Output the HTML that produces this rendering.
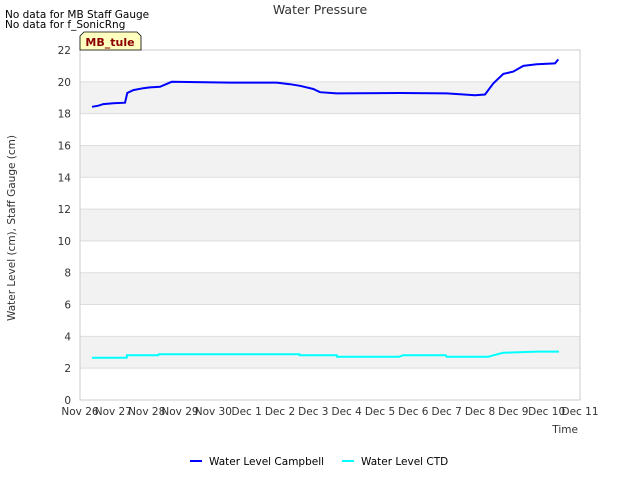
<!DOCTYPE html>
<html><head><meta charset="utf-8"><style>
body{margin:0;background:#fff;font-family:"Liberation Sans","DejaVu Sans",sans-serif;}
svg text{font-family:"DejaVu Sans","Liberation Sans",sans-serif;}
</style></head><body>
<svg id="chart" width="640" height="480" xmlns="http://www.w3.org/2000/svg">
<text x="320" y="14" text-anchor="middle" font-size="12.5" fill="#333">Water Pressure</text>
<text x="5" y="18" font-size="10.5" fill="#000">No data for MB Staff Gauge</text>
<text x="5" y="28" font-size="10.5" fill="#000">No data for f_SonicRng</text>
<g id="bands"></g>
<g id="grid"></g>
<rect x="80" y="50" width="500" height="350" fill="none" stroke="#ccc"/>
<g id="yticks"></g><g id="xticks"></g>
<g id="series"></g>
<path d="M80,50 L80,36 L84,32 L137,32 L141,36 L141,50 Z" fill="#ffffc0" stroke="#000" stroke-width="0.8"/>
<text x="110" y="46" text-anchor="middle" font-size="11" font-weight="bold" fill="#8b0000">MB_tule</text>
<text x="15" y="228" transform="rotate(-90 15 228)" text-anchor="middle" font-size="10.5" fill="#333">Water Level (cm), Staff Gauge (cm)</text>
<text x="578" y="433" text-anchor="end" font-size="10.5" fill="#333">Time</text>
<line x1="190" y1="461" x2="202" y2="461" stroke="#0000ff" stroke-width="2"/>
<text x="209" y="465" font-size="10.5" fill="#000">Water Level Campbell</text>
<line x1="342" y1="461" x2="354" y2="461" stroke="#00ffff" stroke-width="2"/>
<text x="361" y="465" font-size="10.5" fill="#000">Water Level CTD</text>
</svg>
<script>
const xLabels=["Nov 26","Nov 27","Nov 28","Nov 29","Nov 30","Dec 1","Dec 2","Dec 3","Dec 4","Dec 5","Dec 6","Dec 7","Dec 8","Dec 9","Dec 10","Dec 11"];
const yTicks=[0,2,4,6,8,10,12,14,16,18,20,22];
const campbellDays=[0.36,0.55,0.7,1.0,1.35,1.42,1.6,1.9,2.1,2.4,2.75,3.5,4.5,5.9,6.3,6.6,7.0,7.2,7.7,9.6,11.0,11.85,12.15,12.4,12.7,13.0,13.3,13.7,14.25,14.35];
const campbellVals=[18.43,18.5,18.6,18.65,18.69,19.3,19.48,19.6,19.65,19.69,20.0,19.98,19.95,19.95,19.85,19.75,19.55,19.35,19.27,19.3,19.27,19.16,19.2,19.9,20.5,20.64,21.0,21.1,21.16,21.41];
const ctdDays=[0.36,1.4,1.41,2.35,2.36,6.58,6.59,7.7,7.71,9.57,9.7,9.85,10.97,11.0,12.25,12.4,12.7,13.7,14.37];
const ctdVals=[2.66,2.66,2.81,2.81,2.87,2.87,2.81,2.81,2.72,2.72,2.81,2.81,2.81,2.72,2.72,2.81,2.97,3.04,3.04];
const NS="http://www.w3.org/2000/svg";
const X=d=>80+d*500/15, Y=v=>400-v*350/22;
function mk(t,a,p){const e=document.createElementNS(NS,t);for(const k in a)e.setAttribute(k,a[k]);p.appendChild(e);return e;}
const bands=document.getElementById('bands'),grid=document.getElementById('grid'),yt=document.getElementById('yticks'),xt=document.getElementById('xticks'),ser=document.getElementById('series');
for(let i=0;i<yTicks.length-1;i++){if(i%2===1){const r=mk('rect',{x:80,y:Y(yTicks[i+1]),width:500,height:Y(yTicks[i])-Y(yTicks[i+1]),fill:'#f2f2f2'},bands);

}}
yTicks.forEach(v=>{const l=mk('line',{x1:80,x2:580,y1:Y(v),y2:Y(v),stroke:'#ddd'},grid);


const t=mk('text',{x:71,y:Y(v)+4,'text-anchor':'end','font-size':10.5,fill:'#333'},yt);t.textContent=v;

});
xLabels.forEach((s,i)=>{const t=mk('text',{x:X(i),y:415,'text-anchor':'middle','font-size':10.5,fill:'#333'},xt);t.textContent=s;

});
function line(days,vals,col,name){const d=days.map((x,i)=>(i?'L':'M')+X(x).toFixed(1)+','+Y(vals[i]).toFixed(1)).join(' ');
const p=mk('path',{d:d,fill:'none',stroke:col,'stroke-width':2},ser);

}
line(ctdDays,ctdVals,'#00ffff','series-water-level-ctd');
line(campbellDays,campbellVals,'#0000ff','series-water-level-campbell');
</script>
</body></html>
